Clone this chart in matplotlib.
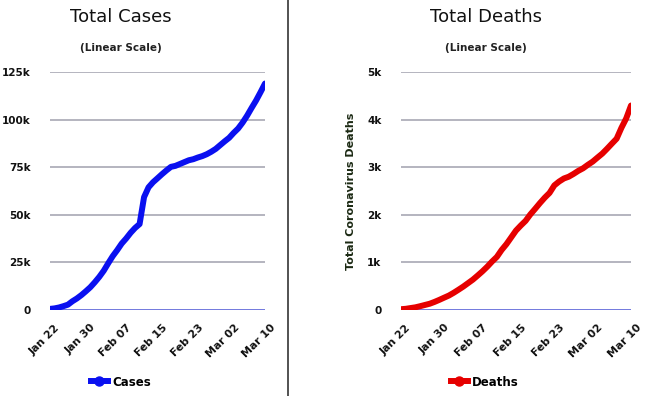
import numpy as np
import matplotlib
matplotlib.use("Agg")
import matplotlib.pyplot as plt
from matplotlib.lines import Line2D

# ---- data (Jan 22 .. Mar 10) ----
cases = [580, 845, 1317, 2015, 2800, 4581, 6058, 7813, 9823, 11950,
         14553, 17391, 20630, 24545, 28266, 31439, 34876, 37552, 40553, 43099,
         45134, 59287, 64438, 67100, 69197, 71329, 73332, 75184, 75700, 76677,
         77673, 78651, 79205, 80087, 80828, 81820, 83112, 84615, 86604, 88585,
         90443, 93016, 95314, 98425, 102050, 106099, 109991, 114381, 118948]
deaths = [17, 25, 41, 56, 80, 106, 132, 170, 213, 259,
          304, 362, 426, 492, 565, 638, 724, 813, 910, 1018,
          1115, 1261, 1383, 1526, 1669, 1775, 1873, 2009, 2126, 2247,
          2360, 2460, 2618, 2699, 2763, 2800, 2858, 2923, 2977, 3050,
          3117, 3202, 3285, 3387, 3494, 3599, 3827, 4025, 4296]
tick_labels = ["Jan 22", "Jan 30", "Feb 07", "Feb 15", "Feb 23", "Mar 02", "Mar 10"]
cases_yticks = [0, 25000, 50000, 75000, 100000, 125000]
cases_ylabels = ["0", "25k", "50k", "75k", "100k", "125k"]
deaths_yticks = [0, 1000, 2000, 3000, 4000, 5000]
deaths_ylabels = ["0", "1k", "2k", "3k", "4k", "5k"]

plt.rcParams['font.family'] = ['DejaVu Sans']

W, H = 650, 396
fig = plt.figure(figsize=(W / 100, H / 100), dpi=100)
fig.patch.set_facecolor("white")

def px_ax(x0, x1, y0, y1):
    return fig.add_axes([x0 / W, 1 - y1 / H, (x1 - x0) / W, (y1 - y0) / H])

def style(ax, data, color, yticks, ylabels, ymax):
    x = np.arange(len(data))
    ax.plot(x, data, color=color, lw=4.3, solid_capstyle="round",
            solid_joinstyle="round", zorder=3)
    ax.set_xlim(0, len(data) - 1)
    ax.set_ylim(0, ymax)
    ax.set_yticks(yticks)
    ax.set_yticklabels(ylabels, fontsize=7.5, fontweight="bold", color="#111111")
    ax.set_xticks(np.arange(0, len(data), 8))
    ax.set_xticklabels(tick_labels, fontsize=7.8, fontweight="bold",
                       color="#111111", rotation=45, ha="right",
                       rotation_mode="anchor")
    ax.tick_params(axis="y", length=0, pad=14)
    ax.tick_params(axis="x", length=0, pad=9)
    for lbl in ax.get_xticklabels():
        lbl.set_transform(lbl.get_transform() +
                          matplotlib.transforms.ScaledTranslation(5 / 100, 0, fig.dpi_scale_trans))
    for s in ax.spines.values():
        s.set_visible(False)
    for yv in yticks[1:]:
        ax.axhline(yv, color="#a8a8b4", lw=1.2, zorder=1)
    ax.axhline(0, color="#5a62d8", lw=1.2, zorder=2)
    ax.set_facecolor("none")

ax1 = px_ax(50, 265, 72, 310)
style(ax1, cases, "#0a10f0", cases_yticks, cases_ylabels, 125000)
ax2 = px_ax(401, 631, 72, 310)
style(ax2, deaths, "#e60000", deaths_yticks, deaths_ylabels, 5000)
ax2.set_ylabel("Total Coronavirus Deaths", fontsize=8, fontweight="bold",
               color="#1c2a14", labelpad=8)

# titles
fig.text(120.5 / W, 1 - 17 / H, "Total Cases", ha="center", va="center", fontsize=13, color="#111111")
fig.text(121 / W, 1 - 48 / H, "(Linear Scale)", ha="center", va="center", fontsize=7.5,
         fontweight="bold", color="#222222")
fig.text(486 / W, 1 - 17 / H, "Total Deaths", ha="center", va="center", fontsize=13, color="#111111")
fig.text(486 / W, 1 - 48 / H, "(Linear Scale)", ha="center", va="center", fontsize=7.5,
         fontweight="bold", color="#222222")

# legends
for cx, label, color in [(121, "Cases", "#0a10f0"), (485, "Deaths", "#e60000")]:
    h = Line2D([], [], color=color, lw=4.3, marker="o", markersize=6.5)
    fig.legend(handles=[h], labels=[label], loc="center",
               bbox_to_anchor=(cx / W, 1 - 382 / H), frameon=False,
               handlelength=1.4, handletextpad=0.4,
               prop={"size": 8.5, "weight": "bold"})

# divider
fig.add_artist(Line2D([287.5 / W, 287.5 / W], [0, 1], color="#444444", lw=1.3,
                      transform=fig.transFigure))

fig.savefig("out.png", dpi=100, facecolor="white")
